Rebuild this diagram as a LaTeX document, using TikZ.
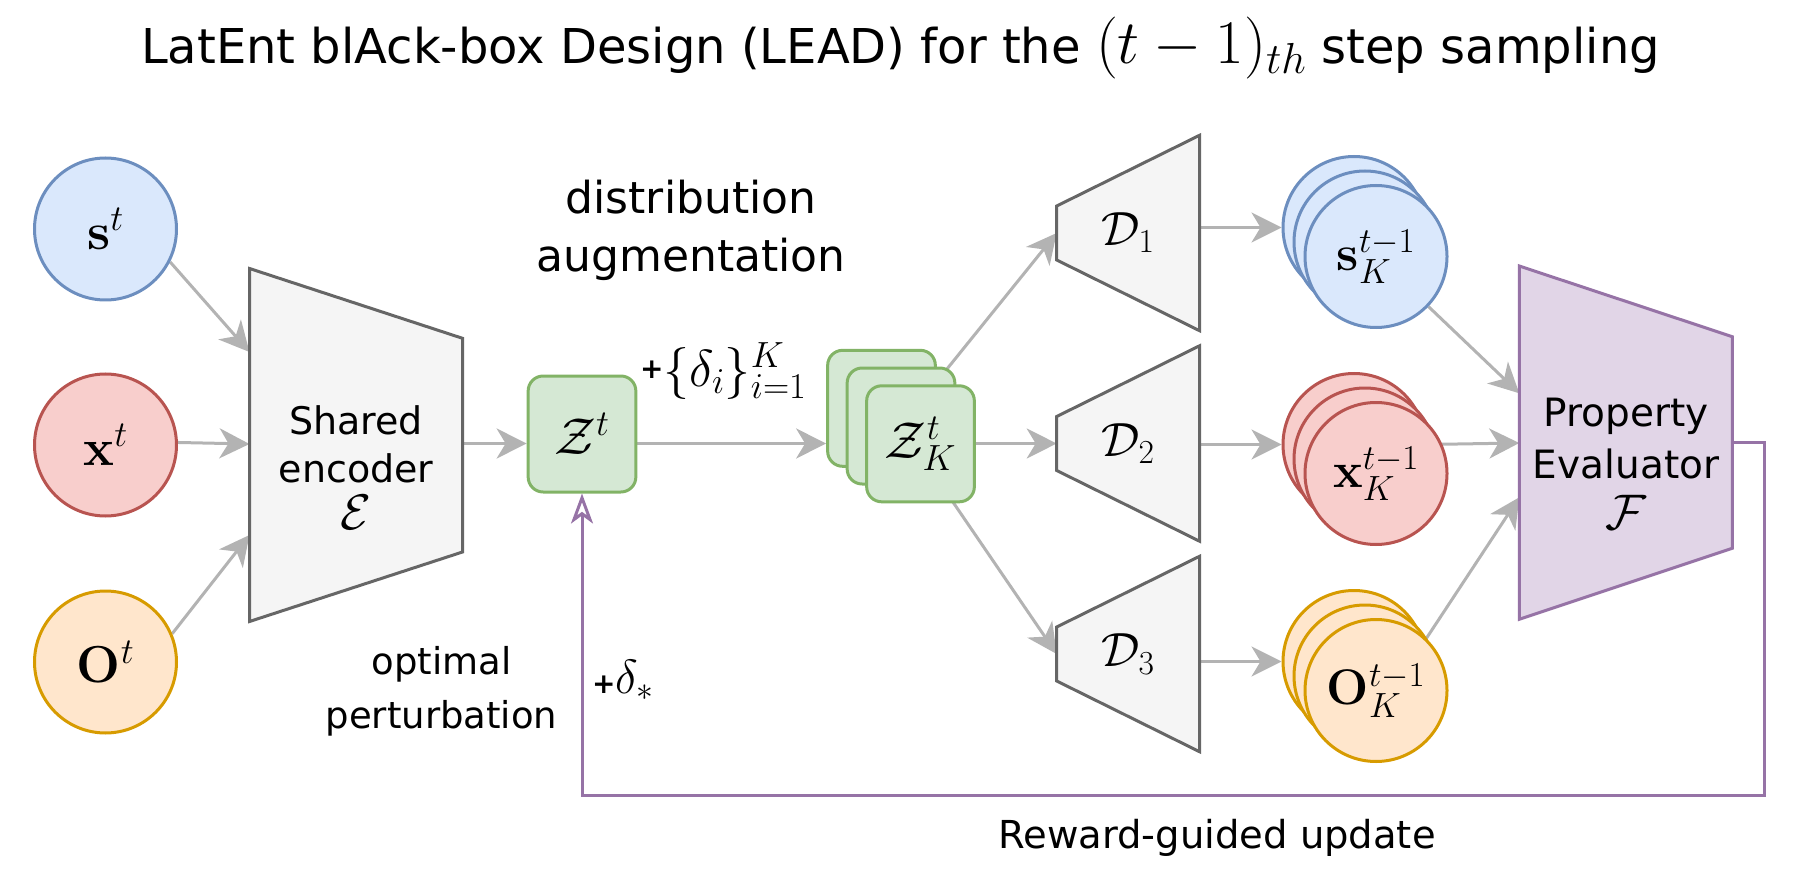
\RequirePackage{fix-cm}
\documentclass[tikz,border=0pt]{standalone}
\usepackage[no-math]{fontspec}
\setmainfont{DejaVu Sans}
\usetikzlibrary{arrows.meta,calc}
\pgfdeclarelayer{bg}
\pgfsetlayers{bg,main}
\definecolor{bluefill}{HTML}{DAE8FC}\definecolor{bluedraw}{HTML}{6C8EBF}
\definecolor{redfill}{HTML}{F8CECC}\definecolor{reddraw}{HTML}{B85450}
\definecolor{orafill}{HTML}{FFE6CC}\definecolor{oradraw}{HTML}{D79B00}
\definecolor{grnfill}{HTML}{D5E8D4}\definecolor{grndraw}{HTML}{82B366}
\definecolor{gryfill}{HTML}{F5F5F5}\definecolor{grydraw}{HTML}{666666}
\definecolor{purfill}{HTML}{E1D5E7}\definecolor{purdraw}{HTML}{9673A6}
\definecolor{arrgray}{HTML}{B3B3B3}
\newcommand{\fsz}[2]{\fontsize{#1}{#2}\selectfont}
\newcommand{\plusmark}{{\bfseries\fsz{28}{28}+}}
\tikzset{
  garrow/.style={draw=arrgray, line width=3pt, -{Stealth[length=30pt,width=30pt,inset=9pt]}},
  fbarrow/.style={draw=purdraw, line width=3pt, -{Stealth[open,length=30pt,width=22pt,inset=8pt]}},
  circ/.style={circle, minimum size=142pt, inner sep=0pt, line width=3pt, font=\fsz{52}{52}},
  outc/.style={font=\fsz{50}{50}},
  bluec/.style={circ, fill=bluefill, draw=bluedraw},
  redc/.style={circ, fill=redfill, draw=reddraw},
  orac/.style={circ, fill=orafill, draw=oradraw},
  zbox/.style={rectangle, rounded corners=15pt, minimum width=107.7pt, minimum height=116pt,
    inner sep=0pt, fill=grnfill, draw=grndraw, line width=3pt, font=\fsz{52}{52}},
  grayshape/.style={fill=gryfill, draw=grydraw, line width=3pt},
  purshape/.style={fill=purfill, draw=purdraw, line width=3pt},
  lbl/.style={inner sep=0pt, align=center},
}
\begin{document}
\begin{tikzpicture}[x=1pt,y=-1pt]
\useasboundingbox (0,0) rectangle (1798,882);

% title
\node[lbl, anchor=base, font=\fsz{48}{48}] (title) at (900.5,64)
  {LatEnt blAck-box Design (LEAD) for the {\fsz{62}{62}$(t-1)_{th}$} step sampling};

% inputs
\node[bluec] (s) at (105.5,229) {$\mathbf{s}^t$};
\node[redc]  (x) at (105.5,445) {$\mathbf{x}^t$};
\node[orac]  (o) at (105.5,662) {$\mathbf{O}^t$};

% encoder
\draw[grayshape] (249.5,268.5) -- (462.5,338.3) -- (462.5,552) -- (249.5,621.5) -- cycle;
\node[lbl, anchor=base, font=\fsz{38}{47.5}] (enc) at (356,529.5)
  {Shared\\encoder\\{\fsz{50}{47.5}$\mathcal{E}$}};
\coordinate (encin1) at (249.5,352);
\coordinate (encin2) at (249.5,444);
\coordinate (encin3) at (249.5,535);
\coordinate (zrow) at (462.5,443.5);

% latent
\node[zbox] (zt) at (582,434) {$\mathcal{Z}^t$};
\node[zbox] (zk1) at (881.5,408.3) {};
\node[zbox] (zk2) at (901,426) {};
\node[zbox] (zk3) at (920.5,443.8) {$\mathcal{Z}^t_K$};

% decoders
\draw[grayshape] (1056.7,206) -- (1199.5,135.3) -- (1199.5,330.7) -- (1056.7,260) -- cycle;
\draw[grayshape] (1056.7,416.5) -- (1199.5,345.8) -- (1199.5,541.2) -- (1056.7,470.5) -- cycle;
\draw[grayshape] (1056.7,627) -- (1199.5,556.3) -- (1199.5,751.7) -- (1056.7,681) -- cycle;
\node[lbl, font=\fsz{48}{48}] (d1) at (1128,233) {$\mathcal{D}_1$};
\node[lbl, font=\fsz{48}{48}] (d2) at (1128,443.5) {$\mathcal{D}_2$};
\node[lbl, font=\fsz{48}{48}] (d3) at (1128,654) {$\mathcal{D}_3$};
\coordinate (d1in) at (1056.7,233);
\coordinate (d2in) at (1056.7,443.5);
\coordinate (d3in) at (1056.7,654);
\coordinate (dout) at (1199.5,443.5);

% outputs
\node[bluec] (sk1) at (1354,227.5) {};
\node[bluec] (sk2) at (1365,242) {};
\node[bluec, outc] (sk3) at (1376,256.5) {$\mathbf{s}^{t-1}_K$};
\node[redc] (xk1) at (1354,444.5) {};
\node[redc] (xk2) at (1365,459) {};
\node[redc, outc] (xk3) at (1376,473.5) {$\mathbf{x}^{t-1}_K$};
\node[orac] (ok1) at (1354,661.5) {};
\node[orac] (ok2) at (1365,676) {};
\node[orac, outc] (ok3) at (1376,690.5) {$\mathbf{O}^{t-1}_K$};

% property evaluator
\draw[purshape] (1519.3,266) -- (1732.3,336.7) -- (1732.3,548.3) -- (1519.3,619.3) -- cycle;
\node[lbl, anchor=base, font=\fsz{39}{51.6}] (pe) at (1626,529.9)
  {Property\\Evaluator\\{\fsz{50}{51.6}$\mathcal{F}$}};
\coordinate (pein1) at (1519.3,393.3);
\coordinate (pein2) at (1519.3,443);
\coordinate (pein3) at (1519.3,497.3);
\coordinate (peout) at (1732.3,442.7);
\coordinate (fbr) at (1764,795.5);

% labels
\node[lbl, anchor=base, font=\fsz{44}{58.4}] (distaug) at (691,271.7) {distribution\\augmentation};
\node[lbl, anchor=base west, font=\fsz{52}{52}] (deltai) at (640,386)
  {\raisebox{8pt}{\plusmark}$\{\delta_i\}_{i=1}^K$};
\node[lbl, anchor=base, font=\fsz{37}{53.8}] (optpert) at (441.5,728.3) {optimal\\perturbation};
\node[lbl, anchor=base west, font=\fsz{48}{48}] (deltastar) at (592,693.3)
  {\plusmark$\delta_*$};
\node[lbl, anchor=base, font=\fsz{38.5}{38.5}] (reward) at (1217,848.3) {Reward-guided update};

% connectors
\begin{pgfonlayer}{bg}
\draw[garrow] (s.-27) -- (encin1);
\draw[garrow] (x.2) -- (encin2);
\draw[garrow] (o.23) -- (encin3);
\draw[garrow] (zrow) -- (zrow -| zt.west);
\draw[garrow] (zt.east |- zrow) -- (zk1.west |- zrow);
\draw[garrow] (zk2.center) -- (d1in);
\draw[garrow] (zk3.east |- d2in) -- (d2in);
\draw[garrow] (zk2.center) -- (d3in);
\draw[garrow] (dout |- sk1.west) -- (sk1.west);
\draw[garrow] (dout |- xk1.west) -- (xk1.west);
\draw[garrow] (dout |- ok1.west) -- (ok1.west);
\draw[garrow] (sk3) -- (pein1);
\draw[garrow] (xk1.east) -- (pein2);
\draw[garrow] (ok3.46.7) -- (pein3);
\draw[fbarrow] (peout) -- (peout -| fbr) -- (fbr) -- (fbr -| zt.south) -- (zt.south);
\end{pgfonlayer}
\end{tikzpicture}
\end{document}
